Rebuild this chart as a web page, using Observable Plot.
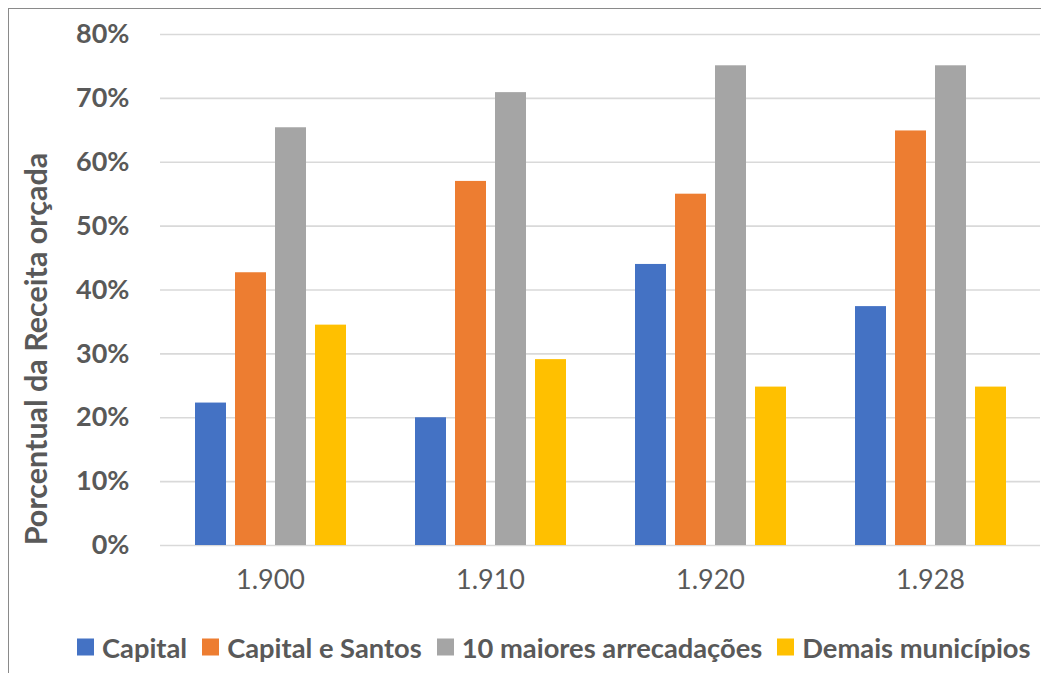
<!DOCTYPE html>
<html>
<head>
<meta charset="utf-8">
<script src="https://cdn.jsdelivr.net/npm/d3@7"></script>
<script src="https://cdn.jsdelivr.net/npm/@observablehq/plot@0.6"></script>
<style>
  html, body { margin: 0; padding: 0; background: #fff; overflow: hidden; width: 1041px; height: 673px; }
  #frame { position: absolute; left: 8px; top: 8px; width: 1100px; height: 700px; border: 1.5px solid #8a8a8a; box-sizing: border-box; }
  #chart { position: absolute; left: 0; top: 0; }
  #ytitle { position: absolute; left: 35px; top: 349px; transform: translate(-50%, -50%) rotate(-90deg); white-space: nowrap;
            font-family: Lato, "Open Sans", sans-serif; font-weight: 700; font-size: 30.5px; color: #595959; }
  #legend { position: absolute; left: 77px; top: 647px; transform: translateY(-50%); display: flex; align-items: center;
            font-family: Lato, "Open Sans", sans-serif; font-weight: 700; font-size: 27.3px; color: #595959; white-space: nowrap; }
  .item { display: flex; align-items: center; margin-right: 15px; }
  .sw { width: 17px; height: 17px; margin-right: 8px; }
</style>
</head>
<body>
<div id="frame"></div>
<div id="chart"></div>
<div id="ytitle">Porcentual da Receita orçada</div>
<div id="legend"></div>
<script>
const years = ["1.900", "1.910", "1.920", "1.928"];
const series = ["Capital", "Capital e Santos", "10 maiores arrecadações", "Demais municípios"];
const colors = ["#4472C4", "#ED7D31", "#A5A5A5", "#FFC000"];
const capital = [22.3, 20.0, 44.0, 37.4];
const capitalSantos = [42.7, 57.0, 55.0, 64.9];
const maiores10 = [65.4, 70.9, 75.1, 75.1];
const demais = [34.5, 29.1, 24.8, 24.8];
const yTicks = [0, 10, 20, 30, 40, 50, 60, 70, 80];

const values = [capital, capitalSantos, maiores10, demais];
const data = [];
years.forEach((yr, i) => series.forEach((s, j) => data.push({year: yr, serie: s, value: values[j][i]})));

const chart = Plot.plot({
  width: 1041,
  height: 600,
  marginTop: 34,
  marginBottom: 55,
  marginLeft: 160,
  marginRight: 1,
  style: {fontFamily: "Lato, 'Open Sans', sans-serif", color: "#595959", background: "transparent"},
  fx: {domain: years, padding: 0},
  x: {domain: series, paddingInner: 0.225, paddingOuter: 0.8625, axis: null},
  y: {domain: [0, 80]},
  color: {domain: series, range: colors},
  marks: [
    Plot.gridY(yTicks, {stroke: "#d9d9d9", strokeOpacity: 1, strokeWidth: 1.6}),
    Plot.barY(data, {fx: "year", x: "serie", y: "value", fill: "serie"}),
    Plot.axisY(yTicks, {tickSize: 0, tickPadding: 31, tickFormat: d => d + "%", label: null,
      fontSize: 27, fontWeight: "bold", fill: "#595959"}),
    Plot.axisFx({anchor: "bottom", tickSize: 0, tickPadding: 24, label: null, fontSize: 27, fill: "#595959"})
  ]
});
document.getElementById("chart").appendChild(chart);

const legend = document.getElementById("legend");
series.forEach((s, i) => {
  const it = document.createElement("div");
  it.className = "item";
  const sw = document.createElement("div");
  sw.className = "sw";
  sw.style.background = colors[i];
  const tx = document.createElement("span");
  tx.textContent = s;
  it.appendChild(sw);
  it.appendChild(tx);
  legend.appendChild(it);
});
</script>
</body>
</html>
